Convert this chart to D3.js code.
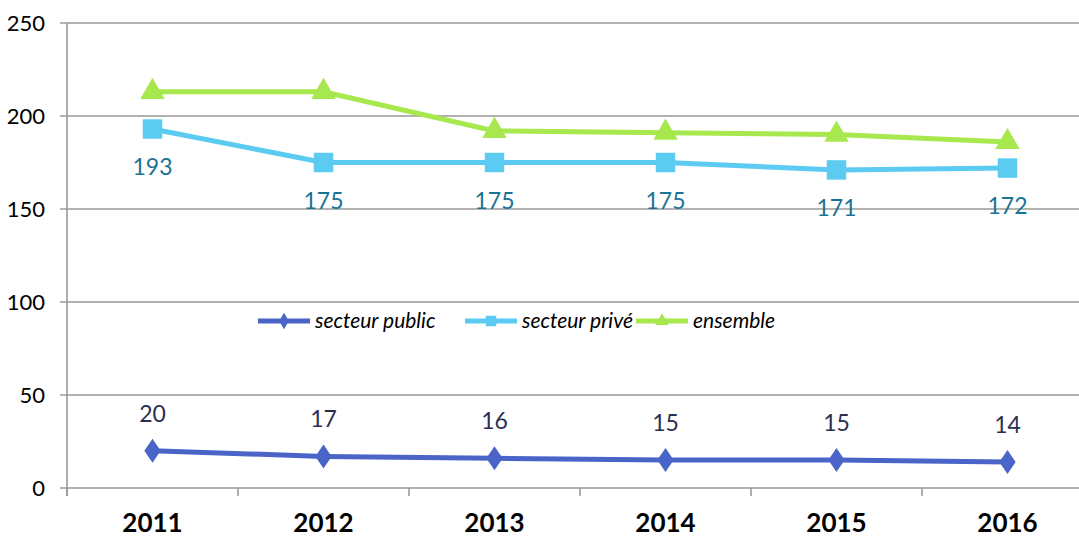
<!DOCTYPE html>
<html><head><meta charset="utf-8">
<script src="https://cdn.jsdelivr.net/npm/d3@7"></script>
<style>body{margin:0;background:#fff}svg{display:block}</style>
</head><body>
<script>
const years = ["2011","2012","2013","2014","2015","2016"];
const publicVals = [20,17,16,15,15,14];
const priveVals = [193,175,175,175,171,172];
const ensembleVals = [213,213,192,191,190,186];
const yTicks = [0,50,100,150,200,250];

const W=1079,H=537;
const svg=d3.select("body").append("svg").attr("width",W).attr("height",H);
const font="Lato, 'Open Sans', sans-serif";
const x=d3.scaleBand().domain(years).range([67,1093]);
const y=d3.scaleLinear().domain([0,250]).range([488,23]);
const cx=d=>x(d)+x.bandwidth()/2;

// gridlines
svg.append("g").selectAll("line").data(yTicks).join("line")
 .attr("x1",60).attr("x2",W).attr("y1",d=>y(d)).attr("y2",d=>y(d))
 .attr("stroke","#999").attr("stroke-width",1.6);
// y axis line
svg.append("line").attr("x1",67).attr("x2",67).attr("y1",y(250)).attr("y2",496).attr("stroke","#999").attr("stroke-width",1.6);
// x ticks
svg.append("g").selectAll("line").data(years).join("line")
 .attr("x1",d=>x(d)).attr("x2",d=>x(d)).attr("y1",488).attr("y2",496)
 .attr("stroke","#999").attr("stroke-width",1.6);
// y labels
svg.append("g").selectAll("text").data(yTicks).join("text")
 .attr("x",45).attr("y",d=>y(d)).attr("dy","0.35em").attr("text-anchor","end")
 .attr("font-family",font).attr("font-size",22).attr("fill","#000").text(d=>d);
// x labels
svg.append("g").selectAll("text").data(years).join("text")
 .attr("x",d=>cx(d)).attr("y",532).attr("text-anchor","middle")
 .attr("font-family",font).attr("font-size",26).attr("font-weight","bold").attr("fill","#000").text(d=>d);

const series=[
 {name:"secteur public",vals:publicVals,color:"#4a64c8",sym:d3.symbolDiamond,size:230,label:"#2a2f4f",dy:-37},
 {name:"secteur privé",vals:priveVals,color:"#5ccbf2",sym:d3.symbolSquare,size:380,label:"#1a7395",dy:38},
 {name:"ensemble",vals:ensembleVals,color:"#a6e84e",sym:d3.symbolTriangle,size:260,label:null}
];
const line=d3.line().x((d,i)=>cx(years[i])).y(d=>y(d));
series.forEach(s=>{
 svg.append("path").attr("d",line(s.vals)).attr("fill","none").attr("stroke",s.color).attr("stroke-width",5);
 svg.append("g").selectAll("path").data(s.vals).join("path")
  .attr("d",d3.symbol().type(s.sym).size(s.size))
  .attr("transform",(d,i)=>`translate(${cx(years[i])},${y(d)})`+(s.sym===d3.symbolDiamond?" scale(1,0.85)":""))
  .attr("fill",s.color);
 if(s.label){
  svg.append("g").selectAll("text").data(s.vals).join("text")
   .attr("x",(d,i)=>cx(years[i])).attr("y",d=>y(d)+s.dy).attr("dy","0.35em").attr("text-anchor","middle")
   .attr("font-family",font).attr("font-size",23).attr("fill",s.label).text(d=>d);
 }
});

// legend
const legX=[258,465,636];
series.forEach((s,i)=>{
 const g=svg.append("g").attr("transform",`translate(${legX[i]},321)`);
 g.append("line").attr("x1",0).attr("x2",52).attr("stroke",s.color).attr("stroke-width",5);
 g.append("path").attr("d",d3.symbol().type(s.sym).size(s.sym===d3.symbolSquare?110:80)).attr("transform","translate(26,0)").attr("fill",s.color);
 g.append("text").attr("x",57).attr("dy","0.35em").attr("font-family",font).attr("font-style","italic").attr("font-size",21).attr("fill","#000").text(s.name);
});
</script>
</body></html>
